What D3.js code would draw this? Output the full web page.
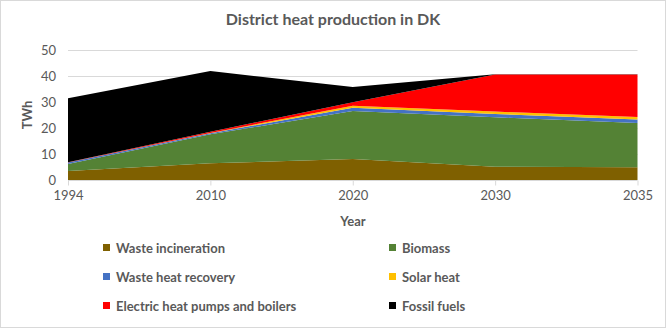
<!DOCTYPE html>
<html><head><meta charset="utf-8">
<script src="https://cdn.jsdelivr.net/npm/d3@7"></script>
<style>body{margin:0;background:#fff}svg{display:block}text{font-family:Lato,"Open Sans",sans-serif}</style>
</head><body><svg id="c" width="667" height="329"></svg>
<script>
const years = ["1994","2010","2020","2030","2035"];
const seriesNames = ["Waste incineration","Biomass","Waste heat recovery","Solar heat","Electric heat pumps and boilers","Fossil fuels"];
const colors = ["#7f6000","#548235","#4472c4","#ffc000","#ff0000","#000000"];
const wasteIncineration = [3.5, 6.4, 8.1, 5.1, 4.9];
const biomass = [2.7, 11.2, 18.4, 19.0, 17.0];
const wasteHeatRecovery = [0.5, 0.4, 1.3, 1.3, 1.4];
const solarHeat = [0.0, 0.1, 0.8, 0.9, 0.9];
const electric = [0.1, 0.5, 1.3, 14.3, 16.4];
const fossil = [24.6, 23.3, 5.9, 0.1, 0.1];
const yTicks = [0,10,20,30,40,50];

const seriesValues = [wasteIncineration, biomass, wasteHeatRecovery, solarHeat, electric, fossil];
const table = years.map((y,i)=>{const o={year:y}; seriesNames.forEach((n,k)=>o[n]=seriesValues[k][i]); return o;});

const svg = d3.select("#c");
svg.append("rect").attr("x",0.5).attr("y",0.5).attr("width",665).attr("height",327).attr("fill","#fff").attr("stroke","#d9d9d9");

const x = d3.scalePoint().domain(years).range([68, 637.5]);
const y = d3.scaleLinear().domain([0,50]).range([180, 50]);

// gridlines
svg.append("g").selectAll("line").data(yTicks.slice(1)).join("line")
  .attr("x1",68).attr("x2",637.5).attr("y1",d=>Math.round(y(d))+0.5).attr("y2",d=>Math.round(y(d))+0.5)
  .attr("stroke","#d9d9d9").attr("stroke-width",1);

const stack = d3.stack().keys(seriesNames)(table);
const area = d3.area().x(d=>x(d.data.year)).y0(d=>y(d[0])).y1(d=>y(d[1]));
svg.append("g").selectAll("path").data(stack).join("path")
  .attr("d",area).attr("fill",(d,i)=>colors[i]);

// x axis
const xAxis = svg.append("g").attr("transform","translate(0,180.5)")
  .call(d3.axisBottom(x).tickSize(5).tickPadding(5));
xAxis.select(".domain").attr("stroke","#d9d9d9").attr("d","M68,0H637.5");
xAxis.selectAll(".tick line").attr("stroke","#d9d9d9");
xAxis.selectAll("text").attr("fill","#595959").style("font-size","13px").style("font-family","Lato,sans-serif");

// y axis labels
const yAxis = svg.append("g").attr("transform","translate(68,0)")
  .call(d3.axisLeft(y).tickValues(yTicks).tickSize(0).tickPadding(12));
yAxis.select(".domain").remove();
yAxis.selectAll("text").attr("fill","#595959").style("font-size","13px").style("font-family","Lato,sans-serif");

svg.append("text").attr("x",333).attr("y",25).attr("text-anchor","middle")
  .attr("fill","#595959").style("font-size","16px").style("font-weight","bold").text("District heat production in DK");
svg.append("text").attr("transform","translate(32,115) rotate(-90)").attr("text-anchor","middle")
  .attr("fill","#595959").style("font-size","13px").style("font-weight","bold").text("TWh");
svg.append("text").attr("x",353).attr("y",226).attr("text-anchor","middle")
  .attr("fill","#595959").style("font-size","13px").style("font-weight","bold").text("Year");

// legend
const lg = svg.append("g");
seriesNames.forEach((n,i)=>{
  const col = i%2, row = Math.floor(i/2);
  const lx = col===0?103:389, ly = 248 + row*29;
  lg.append("rect").attr("x",lx).attr("y",ly-4).attr("width",7).attr("height",7).attr("fill",colors[i]);
  lg.append("text").attr("x",lx+13).attr("y",ly+4.5).attr("fill","#595959")
    .style("font-size","13px").style("font-weight","bold").text(n);
});
</script></body></html>
